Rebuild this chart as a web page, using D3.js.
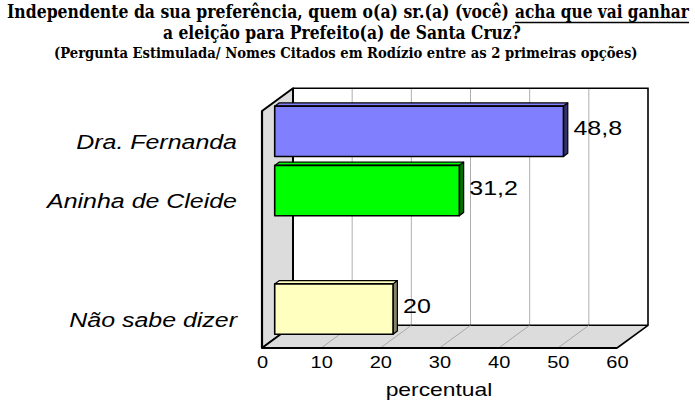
<!DOCTYPE html>
<html>
<head>
<meta charset="utf-8">
<script src="https://cdn.jsdelivr.net/npm/d3@7/dist/d3.min.js"></script>
<style>
  body { margin: 0; background: #fff; }
  svg text { font-family: "Liberation Sans", Arial, sans-serif; fill: #000; }
  svg text.title { font-family: "DejaVu Serif", serif; font-weight: bold; }
</style>
</head>
<body>
<div id="chart"></div>
<script>
/////////////////////////////////////////////////////////
// data
/////////////////////////////////////////////////////////
var categories = ["Dra. Fernanda", "Aninha de Cleide", " ", "Não sabe dizer"];
var values = [48.8, 31.2, null, 20];
var valueLabels = ["48,8", "31,2", "", "20"];
var xTicks = [0, 10, 20, 30, 40, 50, 60];
var xDomain = [0, 60];
var xTitle = "percentual";

var titleLine1a = "Independente da sua preferência, quem o(a) sr.(a) (você)";
var titleLine1b = "acha que vai ganhar";
var titleLine2 = "a eleição para Prefeito(a) de Santa Cruz?";
var titleLine3 = "(Pergunta Estimulada/ Nomes Citados em Rodízio entre as 2 primeiras opções)";

// colours per category (front face, side face)
var faceColor = { "Dra. Fernanda": "#8080ff", "Aninha de Cleide": "#00ff00", "Não sabe dizer": "#ffffc0" };
var sideColor = { "Dra. Fernanda": "#33336b", "Aninha de Cleide": "#007000", "Não sabe dizer": "#85856a" };

var W = 695, H = 406;

var svg = d3.select("#chart").append("svg")
    .attr("width", W)
    .attr("height", H);

/////////////////////////////////////////////////////////
// title: each piece squeezed to the width it has in the picture
/////////////////////////////////////////////////////////
function fitText (str, x0, y0, size, width) {
  var t = svg.append("text").attr("class", "title")
      .attr("font-size", size)
      .text(str);
  var natural = t.node().getComputedTextLength();
  t.attr("transform", "translate(" + x0 + "," + y0 + ") scale(" + (width / natural) + ",1)");
  return t;
}

fitText(titleLine1a, 7, 18, 19, 502);
fitText(titleLine1b, 515, 18, 19, 174);
svg.append("line")
    .attr("x1", 515).attr("x2", 689)
    .attr("y1", 22.5).attr("y2", 22.5)
    .attr("stroke", "#000").attr("stroke-width", 1.5);
fitText(titleLine2, 163, 38.5, 19, 358);
fitText(titleLine3, 54, 57.5, 14, 584);

/////////////////////////////////////////////////////////
// scales (front plane) + depth offset
/////////////////////////////////////////////////////////
var x = d3.scaleLinear().domain(xDomain).range([262, 617]);
var y = d3.scaleBand().domain(categories)
    .range([111, 348])
    .paddingInner(0.15)
    .paddingOuter(0.075);

var DX = 31, DY = -22.7;          // full depth of the box
var barF = 0.41, barD = 0.14;     // bar position / thickness in depth

var yTop = y.range()[0], yBot = y.range()[1];
var gridTicks = xTicks.filter(function (t) { return t > xDomain[0] && t < xDomain[1]; });

// back wall
svg.append("rect")
    .attr("x", x(xDomain[0]) + DX).attr("y", yTop + DY)
    .attr("width", x(xDomain[1]) - x(xDomain[0]))
    .attr("height", yBot - yTop)
    .attr("fill", "#fff");

svg.selectAll(".grid")
    .data(gridTicks)
  .enter().append("line")
    .attr("class", "grid")
    .attr("x1", function (d) { return x(d) + DX; })
    .attr("x2", function (d) { return x(d) + DX; })
    .attr("y1", yTop + DY).attr("y2", yBot + DY)
    .attr("stroke", "#9a9a9a").attr("stroke-width", 0.8);

svg.append("polyline")
    .attr("points", [
      [x(xDomain[0]) + DX, yTop + DY],
      [x(xDomain[1]) + DX, yTop + DY],
      [x(xDomain[1]) + DX, yBot + DY]
    ].join(" "))
    .attr("fill", "none").attr("stroke", "#000").attr("stroke-width", 1.6);

// left wall
svg.append("polygon")
    .attr("points", [
      [x(0), yTop], [x(0) + DX, yTop + DY],
      [x(0) + DX, yBot + DY], [x(0), yBot]
    ].join(" "))
    .attr("fill", "#dcdcdc").attr("stroke", "#000").attr("stroke-width", 2)
    .attr("stroke-linejoin", "round");

// floor
svg.append("polygon")
    .attr("points", [
      [x(xDomain[0]), yBot], [x(xDomain[0]) + DX, yBot + DY],
      [x(xDomain[1]) + DX, yBot + DY], [x(xDomain[1]), yBot]
    ].join(" "))
    .attr("fill", "#dcdcdc").attr("stroke", "#000").attr("stroke-width", 1.6)
    .attr("stroke-linejoin", "round");

svg.selectAll(".floorgrid")
    .data(gridTicks)
  .enter().append("line")
    .attr("class", "floorgrid")
    .attr("x1", function (d) { return x(d); })
    .attr("x2", function (d) { return x(d) + DX; })
    .attr("y1", yBot).attr("y2", yBot + DY)
    .attr("stroke", "#9a9a9a").attr("stroke-width", 0.8);

// heavier front edges
svg.append("line")
    .attr("x1", x(xDomain[0])).attr("x2", x(xDomain[1]))
    .attr("y1", yBot).attr("y2", yBot)
    .attr("stroke", "#000").attr("stroke-width", 2.2);
svg.append("line")
    .attr("x1", x(0)).attr("x2", x(0))
    .attr("y1", yTop).attr("y2", yBot)
    .attr("stroke", "#000").attr("stroke-width", 2.2);

/////////////////////////////////////////////////////////
// bars
/////////////////////////////////////////////////////////
var bars = categories.map(function (c, i) {
  return { cat: c, value: values[i], label: valueLabels[i] };
}).filter(function (d) { return d.value != null; });

var bx = DX * barF, by = DY * barF;
var dx = DX * barD, dy = DY * barD;

var barG = svg.selectAll(".bar")
    .data(bars)
  .enter().append("g")
    .attr("class", "bar");

function pts (d, which) {
  var x0 = x(0) + bx, x1 = x(d.value) + bx;
  var y0 = y(d.cat) + by, y1 = y0 + y.bandwidth();
  if (which === "top") return [[x0, y0], [x0 + dx, y0 + dy], [x1 + dx, y0 + dy], [x1, y0]].join(" ");
  if (which === "side") return [[x1, y0], [x1 + dx, y0 + dy], [x1 + dx, y1 + dy], [x1, y1]].join(" ");
  return [[x0, y0], [x1, y0], [x1, y1], [x0, y1]].join(" ");
}

barG.append("polygon")
    .attr("points", function (d) { return pts(d, "top"); })
    .attr("fill", function (d) { return faceColor[d.cat]; })
    .attr("stroke", "#000").attr("stroke-width", 1.2).attr("stroke-linejoin", "round");
barG.append("polygon")
    .attr("points", function (d) { return pts(d, "side"); })
    .attr("fill", function (d) { return sideColor[d.cat]; })
    .attr("stroke", "#000").attr("stroke-width", 1.2).attr("stroke-linejoin", "round");
barG.append("polygon")
    .attr("points", function (d) { return pts(d, "front"); })
    .attr("fill", function (d) { return faceColor[d.cat]; })
    .attr("stroke", "#000").attr("stroke-width", 1.6).attr("stroke-linejoin", "round");

// value labels
barG.append("text")
    .attr("transform", function (d) {
      return "translate(" + (x(d.value) + bx + 10) + "," + (y(d.cat) + by + y.bandwidth() / 2 + 4) + ") scale(1.25,1)";
    })
    .attr("font-size", 20)
    .text(function (d) { return d.label; });

/////////////////////////////////////////////////////////
// axes
/////////////////////////////////////////////////////////
var xAxis = svg.append("g")
    .attr("transform", "translate(0," + yBot + ")")
    .call(d3.axisBottom(x).tickValues(xTicks).tickSize(0).tickPadding(0));
xAxis.select(".domain").remove();
xAxis.selectAll("text")
    .attr("font-family", null)
    .attr("font-size", 16)
    .attr("y", 0).attr("dy", null)
    .attr("transform", "translate(0,19.5) scale(1.25,1)");

var yAxis = svg.append("g")
    .attr("transform", "translate(237,0)")
    .call(d3.axisLeft(y).tickSize(0).tickPadding(0));
yAxis.select(".domain").remove();
yAxis.selectAll("text")
    .attr("font-family", null)
    .attr("font-size", 19.5)
    .attr("font-style", "italic")
    .attr("dy", "0.42em")
    .attr("transform", "scale(1.28,1)");

svg.append("text")
    .attr("transform", "translate(439,395.5) scale(1.27,1)")
    .attr("text-anchor", "middle")
    .attr("font-size", 18)
    .text(xTitle);
</script>
</body>
</html>
